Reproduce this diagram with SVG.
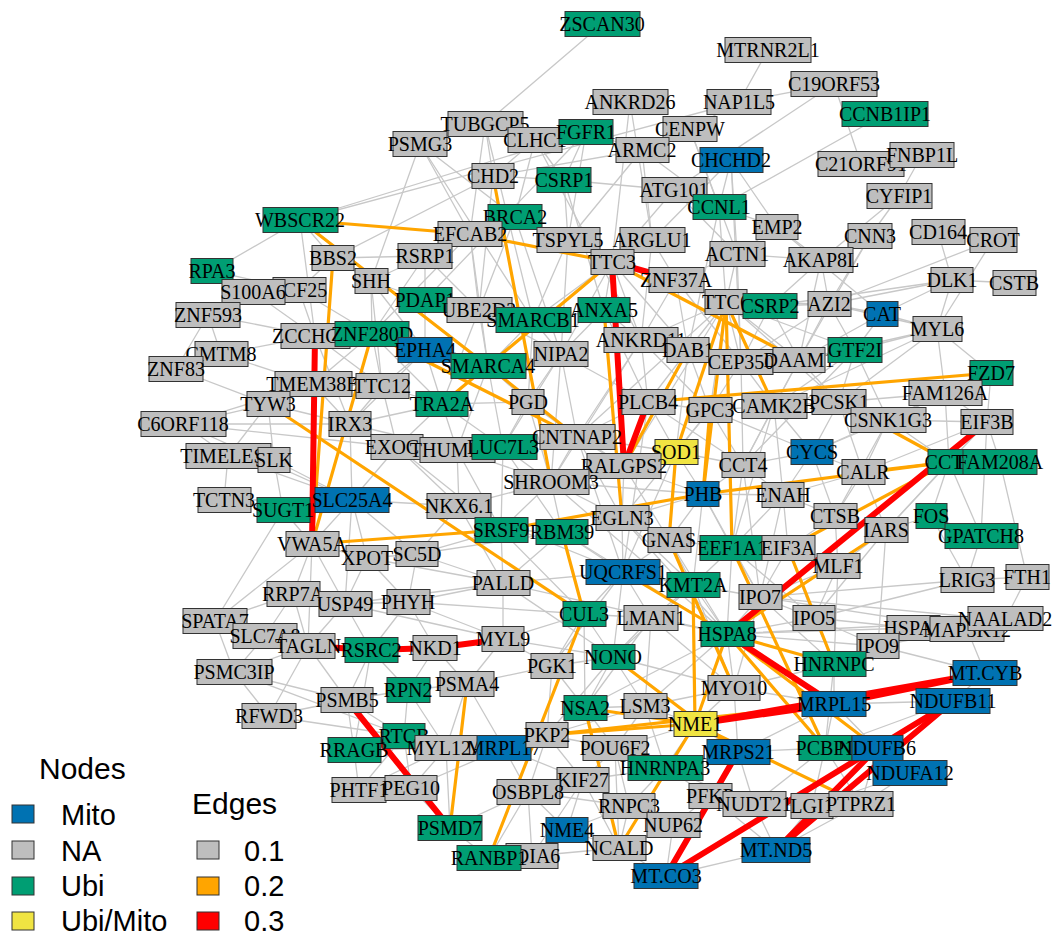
<svg xmlns="http://www.w3.org/2000/svg" width="1053" height="937" viewBox="0 0 1053 937">
<style>
.bg{fill:#fff}
#edges line{fill:none;stroke-linecap:round}
.e1{stroke:#c8c8c8;stroke-width:1.3}
.e2{stroke:#ffa500;stroke-width:3.2}
.e3{stroke:#ff0000;stroke-width:6}
.node rect{stroke:#333;stroke-width:1}
.m{fill:#0072b2}.n{fill:#bebebe}.u{fill:#009e73}.y{fill:#f0e442}
.node text{font-family:"Liberation Serif","Times New Roman",serif;font-size:20px;text-anchor:middle;fill:#000}
.lg text{font-family:"Liberation Sans",Arial,sans-serif;fill:#000}
.lg rect{stroke:#333;stroke-width:1}
</style>
<rect class="bg" x="0" y="0" width="1053" height="937"/>
<g id="edges">
<g class="e1">
<line x1="602" y1="24" x2="485" y2="124"/><line x1="768" y1="50" x2="739" y2="102"/><line x1="834" y1="84" x2="739" y2="102"/><line x1="834" y1="84" x2="861" y2="164"/><line x1="834" y1="84" x2="674" y2="190"/><line x1="885" y1="114" x2="719" y2="207"/><line x1="922" y1="155" x2="899" y2="196"/><line x1="899" y1="196" x2="870" y2="236"/><line x1="899" y1="196" x2="821" y2="260"/><line x1="739" y1="102" x2="300" y2="220"/><line x1="739" y1="102" x2="690" y2="129"/><line x1="630" y1="102" x2="612" y2="262"/><line x1="485" y1="124" x2="420" y2="144"/><line x1="485" y1="124" x2="533" y2="320"/><line x1="485" y1="124" x2="493" y2="176"/><line x1="420" y1="144" x2="371" y2="281"/><line x1="420" y1="144" x2="533" y2="320"/><line x1="420" y1="144" x2="470" y2="234"/><line x1="300" y1="220" x2="586" y2="132"/><line x1="300" y1="220" x2="212" y2="271"/><line x1="300" y1="220" x2="333" y2="258"/><line x1="300" y1="220" x2="315" y2="336"/><line x1="333" y1="258" x2="493" y2="176"/><line x1="535" y1="140" x2="515" y2="217"/><line x1="535" y1="140" x2="564" y2="180"/><line x1="535" y1="140" x2="641" y2="340"/><line x1="586" y1="132" x2="568" y2="240"/><line x1="586" y1="132" x2="642" y2="150"/><line x1="586" y1="132" x2="425" y2="300"/><line x1="642" y1="150" x2="652" y2="240"/><line x1="642" y1="150" x2="493" y2="176"/><line x1="642" y1="150" x2="719" y2="207"/><line x1="690" y1="129" x2="642" y2="150"/><line x1="690" y1="129" x2="737" y2="254"/><line x1="731" y1="160" x2="652" y2="240"/><line x1="731" y1="160" x2="719" y2="207"/><line x1="731" y1="160" x2="741" y2="362"/><line x1="493" y1="176" x2="564" y2="180"/><line x1="493" y1="176" x2="479" y2="310"/><line x1="564" y1="180" x2="674" y2="190"/><line x1="564" y1="180" x2="568" y2="240"/><line x1="564" y1="180" x2="604" y2="310"/><line x1="674" y1="190" x2="612" y2="262"/><line x1="674" y1="190" x2="737" y2="254"/><line x1="674" y1="190" x2="719" y2="207"/><line x1="719" y1="207" x2="777" y2="227"/><line x1="719" y1="207" x2="726" y2="302"/><line x1="719" y1="207" x2="688" y2="350"/><line x1="515" y1="217" x2="470" y2="234"/><line x1="515" y1="217" x2="612" y2="262"/><line x1="515" y1="217" x2="479" y2="310"/><line x1="515" y1="217" x2="561" y2="354"/><line x1="777" y1="227" x2="737" y2="254"/><line x1="777" y1="227" x2="821" y2="260"/><line x1="777" y1="227" x2="882" y2="314"/><line x1="870" y1="236" x2="829" y2="304"/><line x1="870" y1="236" x2="799" y2="360"/><line x1="938" y1="232" x2="952" y2="280"/><line x1="938" y1="232" x2="993" y2="240"/><line x1="993" y1="240" x2="829" y2="304"/><line x1="993" y1="240" x2="937" y2="329"/><line x1="952" y1="280" x2="1014" y2="283"/><line x1="952" y1="280" x2="937" y2="329"/><line x1="952" y1="280" x2="829" y2="304"/><line x1="952" y1="280" x2="770" y2="306"/><line x1="470" y1="234" x2="425" y2="256"/><line x1="470" y1="234" x2="479" y2="310"/><line x1="470" y1="234" x2="372" y2="334"/><line x1="470" y1="234" x2="488" y2="366"/><line x1="568" y1="240" x2="612" y2="262"/><line x1="568" y1="240" x2="533" y2="320"/><line x1="568" y1="240" x2="561" y2="354"/><line x1="652" y1="240" x2="612" y2="262"/><line x1="652" y1="240" x2="676" y2="280"/><line x1="652" y1="240" x2="641" y2="340"/><line x1="737" y1="254" x2="726" y2="302"/><line x1="737" y1="254" x2="676" y2="280"/><line x1="737" y1="254" x2="821" y2="260"/><line x1="737" y1="254" x2="741" y2="362"/><line x1="821" y1="260" x2="829" y2="304"/><line x1="821" y1="260" x2="799" y2="360"/><line x1="821" y1="260" x2="770" y2="306"/><line x1="212" y1="271" x2="253" y2="292"/><line x1="212" y1="271" x2="299" y2="290"/><line x1="333" y1="258" x2="299" y2="290"/><line x1="333" y1="258" x2="371" y2="281"/><line x1="333" y1="258" x2="425" y2="256"/><line x1="425" y1="256" x2="371" y2="281"/><line x1="425" y1="256" x2="425" y2="300"/><line x1="425" y1="256" x2="479" y2="310"/><line x1="425" y1="256" x2="372" y2="334"/><line x1="612" y1="262" x2="604" y2="310"/><line x1="612" y1="262" x2="641" y2="340"/><line x1="612" y1="262" x2="533" y2="320"/><line x1="612" y1="262" x2="561" y2="354"/><line x1="612" y1="262" x2="688" y2="350"/><line x1="612" y1="262" x2="726" y2="302"/><line x1="676" y1="280" x2="726" y2="302"/><line x1="676" y1="280" x2="641" y2="340"/><line x1="676" y1="280" x2="688" y2="350"/><line x1="676" y1="280" x2="741" y2="362"/><line x1="253" y1="292" x2="299" y2="290"/><line x1="253" y1="292" x2="208" y2="315"/><line x1="253" y1="292" x2="315" y2="336"/><line x1="299" y1="290" x2="315" y2="336"/><line x1="299" y1="290" x2="372" y2="334"/><line x1="371" y1="281" x2="372" y2="334"/><line x1="371" y1="281" x2="382" y2="386"/><line x1="371" y1="281" x2="425" y2="300"/><line x1="371" y1="281" x2="425" y2="350"/><line x1="425" y1="300" x2="425" y2="350"/><line x1="425" y1="300" x2="479" y2="310"/><line x1="425" y1="300" x2="533" y2="320"/><line x1="479" y1="310" x2="533" y2="320"/><line x1="479" y1="310" x2="488" y2="366"/><line x1="479" y1="310" x2="561" y2="354"/><line x1="479" y1="310" x2="442" y2="404"/><line x1="726" y1="302" x2="770" y2="306"/><line x1="726" y1="302" x2="688" y2="350"/><line x1="726" y1="302" x2="741" y2="362"/><line x1="726" y1="302" x2="799" y2="360"/><line x1="726" y1="302" x2="829" y2="304"/><line x1="726" y1="302" x2="855" y2="350"/><line x1="726" y1="302" x2="641" y2="340"/><line x1="726" y1="302" x2="710" y2="410"/><line x1="726" y1="302" x2="839" y2="402"/><line x1="726" y1="302" x2="577" y2="437"/><line x1="726" y1="302" x2="624" y2="466"/><line x1="770" y1="306" x2="829" y2="304"/><line x1="770" y1="306" x2="799" y2="360"/><line x1="770" y1="306" x2="741" y2="362"/><line x1="829" y1="304" x2="882" y2="314"/><line x1="829" y1="304" x2="855" y2="350"/><line x1="829" y1="304" x2="937" y2="329"/><line x1="882" y1="314" x2="937" y2="329"/><line x1="882" y1="314" x2="855" y2="350"/><line x1="882" y1="314" x2="799" y2="360"/><line x1="937" y1="329" x2="945" y2="393"/><line x1="937" y1="329" x2="991" y2="373"/><line x1="937" y1="329" x2="855" y2="350"/><line x1="937" y1="329" x2="839" y2="402"/><line x1="208" y1="315" x2="221" y2="354"/><line x1="208" y1="315" x2="315" y2="336"/><line x1="208" y1="315" x2="176" y2="369"/><line x1="221" y1="354" x2="176" y2="369"/><line x1="221" y1="354" x2="313" y2="384"/><line x1="221" y1="354" x2="315" y2="336"/><line x1="176" y1="369" x2="268" y2="404"/><line x1="315" y1="336" x2="372" y2="334"/><line x1="315" y1="336" x2="313" y2="384"/><line x1="315" y1="336" x2="382" y2="386"/><line x1="315" y1="336" x2="350" y2="424"/><line x1="372" y1="334" x2="425" y2="350"/><line x1="372" y1="334" x2="382" y2="386"/><line x1="372" y1="334" x2="313" y2="384"/><line x1="372" y1="334" x2="442" y2="404"/><line x1="425" y1="350" x2="488" y2="366"/><line x1="425" y1="350" x2="442" y2="404"/><line x1="425" y1="350" x2="382" y2="386"/><line x1="425" y1="350" x2="350" y2="424"/><line x1="533" y1="320" x2="561" y2="354"/><line x1="533" y1="320" x2="604" y2="310"/><line x1="533" y1="320" x2="488" y2="366"/><line x1="533" y1="320" x2="528" y2="402"/><line x1="604" y1="310" x2="641" y2="340"/><line x1="604" y1="310" x2="561" y2="354"/><line x1="604" y1="310" x2="648" y2="402"/><line x1="641" y1="340" x2="688" y2="350"/><line x1="641" y1="340" x2="648" y2="402"/><line x1="641" y1="340" x2="577" y2="437"/><line x1="641" y1="340" x2="710" y2="410"/><line x1="688" y1="350" x2="741" y2="362"/><line x1="688" y1="350" x2="648" y2="402"/><line x1="688" y1="350" x2="710" y2="410"/><line x1="688" y1="350" x2="676" y2="452"/><line x1="741" y1="362" x2="799" y2="360"/><line x1="741" y1="362" x2="710" y2="410"/><line x1="741" y1="362" x2="774" y2="406"/><line x1="741" y1="362" x2="743" y2="465"/><line x1="799" y1="360" x2="855" y2="350"/><line x1="799" y1="360" x2="774" y2="406"/><line x1="799" y1="360" x2="839" y2="402"/><line x1="855" y1="350" x2="839" y2="402"/><line x1="855" y1="350" x2="888" y2="420"/><line x1="855" y1="350" x2="774" y2="406"/><line x1="488" y1="366" x2="561" y2="354"/><line x1="488" y1="366" x2="442" y2="404"/><line x1="488" y1="366" x2="528" y2="402"/><line x1="488" y1="366" x2="503" y2="447"/><line x1="488" y1="366" x2="457" y2="450"/><line x1="561" y1="354" x2="528" y2="402"/><line x1="561" y1="354" x2="577" y2="437"/><line x1="561" y1="354" x2="648" y2="402"/><line x1="561" y1="354" x2="503" y2="447"/><line x1="313" y1="384" x2="382" y2="386"/><line x1="313" y1="384" x2="268" y2="404"/><line x1="313" y1="384" x2="350" y2="424"/><line x1="313" y1="384" x2="183" y2="424"/><line x1="382" y1="386" x2="350" y2="424"/><line x1="382" y1="386" x2="442" y2="404"/><line x1="382" y1="386" x2="397" y2="447"/><line x1="648" y1="402" x2="710" y2="410"/><line x1="648" y1="402" x2="676" y2="452"/><line x1="648" y1="402" x2="577" y2="437"/><line x1="648" y1="402" x2="743" y2="465"/><line x1="710" y1="410" x2="774" y2="406"/><line x1="710" y1="410" x2="676" y2="452"/><line x1="710" y1="410" x2="743" y2="465"/><line x1="710" y1="410" x2="812" y2="452"/><line x1="774" y1="406" x2="839" y2="402"/><line x1="774" y1="406" x2="812" y2="452"/><line x1="774" y1="406" x2="743" y2="465"/><line x1="774" y1="406" x2="783" y2="495"/><line x1="839" y1="402" x2="888" y2="420"/><line x1="839" y1="402" x2="945" y2="393"/><line x1="839" y1="402" x2="812" y2="452"/><line x1="839" y1="402" x2="863" y2="472"/><line x1="991" y1="373" x2="945" y2="393"/><line x1="991" y1="373" x2="987" y2="422"/><line x1="1000" y1="462" x2="1027" y2="577"/><line x1="945" y1="393" x2="888" y2="420"/><line x1="945" y1="393" x2="987" y2="422"/><line x1="945" y1="393" x2="949" y2="462"/><line x1="268" y1="404" x2="183" y2="424"/><line x1="268" y1="404" x2="350" y2="424"/><line x1="268" y1="404" x2="228" y2="456"/><line x1="268" y1="404" x2="274" y2="460"/><line x1="350" y1="424" x2="442" y2="404"/><line x1="350" y1="424" x2="397" y2="447"/><line x1="350" y1="424" x2="457" y2="450"/><line x1="350" y1="424" x2="352" y2="500"/><line x1="350" y1="424" x2="183" y2="424"/><line x1="442" y1="404" x2="528" y2="402"/><line x1="442" y1="404" x2="457" y2="450"/><line x1="442" y1="404" x2="503" y2="447"/><line x1="442" y1="404" x2="397" y2="447"/><line x1="528" y1="402" x2="503" y2="447"/><line x1="528" y1="402" x2="577" y2="437"/><line x1="528" y1="402" x2="624" y2="466"/><line x1="888" y1="420" x2="987" y2="422"/><line x1="888" y1="420" x2="812" y2="452"/><line x1="888" y1="420" x2="863" y2="472"/><line x1="888" y1="420" x2="949" y2="462"/><line x1="987" y1="422" x2="1000" y2="462"/><line x1="987" y1="422" x2="981" y2="536"/><line x1="183" y1="424" x2="228" y2="456"/><line x1="183" y1="424" x2="352" y2="500"/><line x1="183" y1="424" x2="397" y2="447"/><line x1="397" y1="447" x2="457" y2="450"/><line x1="397" y1="447" x2="352" y2="500"/><line x1="397" y1="447" x2="459" y2="506"/><line x1="457" y1="450" x2="503" y2="447"/><line x1="457" y1="450" x2="459" y2="506"/><line x1="457" y1="450" x2="551" y2="482"/><line x1="503" y1="447" x2="577" y2="437"/><line x1="503" y1="447" x2="551" y2="482"/><line x1="503" y1="447" x2="501" y2="530"/><line x1="577" y1="437" x2="624" y2="466"/><line x1="577" y1="437" x2="551" y2="482"/><line x1="577" y1="437" x2="676" y2="452"/><line x1="577" y1="437" x2="622" y2="518"/><line x1="676" y1="452" x2="624" y2="466"/><line x1="676" y1="452" x2="743" y2="465"/><line x1="676" y1="452" x2="703" y2="494"/><line x1="624" y1="466" x2="551" y2="482"/><line x1="624" y1="466" x2="622" y2="518"/><line x1="624" y1="466" x2="703" y2="494"/><line x1="624" y1="466" x2="669" y2="540"/><line x1="743" y1="465" x2="812" y2="452"/><line x1="743" y1="465" x2="703" y2="494"/><line x1="743" y1="465" x2="783" y2="495"/><line x1="743" y1="465" x2="732" y2="548"/><line x1="812" y1="452" x2="863" y2="472"/><line x1="812" y1="452" x2="783" y2="495"/><line x1="812" y1="452" x2="835" y2="516"/><line x1="863" y1="472" x2="783" y2="495"/><line x1="863" y1="472" x2="835" y2="516"/><line x1="863" y1="472" x2="886" y2="530"/><line x1="949" y1="462" x2="1000" y2="462"/><line x1="949" y1="462" x2="931" y2="516"/><line x1="949" y1="462" x2="981" y2="536"/><line x1="949" y1="462" x2="886" y2="530"/><line x1="228" y1="456" x2="274" y2="460"/><line x1="228" y1="456" x2="224" y2="500"/><line x1="274" y1="460" x2="283" y2="510"/><line x1="274" y1="460" x2="352" y2="500"/><line x1="551" y1="482" x2="459" y2="506"/><line x1="551" y1="482" x2="622" y2="518"/><line x1="551" y1="482" x2="562" y2="532"/><line x1="551" y1="482" x2="501" y2="530"/><line x1="551" y1="482" x2="703" y2="494"/><line x1="224" y1="500" x2="283" y2="510"/><line x1="283" y1="510" x2="352" y2="500"/><line x1="283" y1="510" x2="312" y2="544"/><line x1="283" y1="510" x2="215" y2="621"/><line x1="352" y1="500" x2="312" y2="544"/><line x1="352" y1="500" x2="367" y2="558"/><line x1="352" y1="500" x2="459" y2="506"/><line x1="352" y1="500" x2="417" y2="554"/><line x1="352" y1="500" x2="345" y2="604"/><line x1="459" y1="506" x2="501" y2="530"/><line x1="459" y1="506" x2="417" y2="554"/><line x1="459" y1="506" x2="503" y2="583"/><line x1="703" y1="494" x2="783" y2="495"/><line x1="703" y1="494" x2="669" y2="540"/><line x1="703" y1="494" x2="622" y2="518"/><line x1="703" y1="494" x2="732" y2="548"/><line x1="703" y1="494" x2="693" y2="585"/><line x1="783" y1="495" x2="788" y2="548"/><line x1="783" y1="495" x2="835" y2="516"/><line x1="783" y1="495" x2="732" y2="548"/><line x1="622" y1="518" x2="669" y2="540"/><line x1="622" y1="518" x2="562" y2="532"/><line x1="622" y1="518" x2="623" y2="572"/><line x1="622" y1="518" x2="693" y2="585"/><line x1="669" y1="540" x2="623" y2="572"/><line x1="669" y1="540" x2="693" y2="585"/><line x1="669" y1="540" x2="732" y2="548"/><line x1="501" y1="530" x2="562" y2="532"/><line x1="501" y1="530" x2="503" y2="583"/><line x1="501" y1="530" x2="417" y2="554"/><line x1="562" y1="532" x2="623" y2="572"/><line x1="562" y1="532" x2="503" y2="583"/><line x1="732" y1="548" x2="788" y2="548"/><line x1="732" y1="548" x2="693" y2="585"/><line x1="732" y1="548" x2="760" y2="597"/><line x1="788" y1="548" x2="835" y2="516"/><line x1="788" y1="548" x2="838" y2="566"/><line x1="788" y1="548" x2="760" y2="597"/><line x1="788" y1="548" x2="814" y2="618"/><line x1="835" y1="516" x2="886" y2="530"/><line x1="835" y1="516" x2="838" y2="566"/><line x1="886" y1="530" x2="931" y2="516"/><line x1="886" y1="530" x2="838" y2="566"/><line x1="886" y1="530" x2="814" y2="618"/><line x1="886" y1="530" x2="878" y2="646"/><line x1="931" y1="516" x2="981" y2="536"/><line x1="931" y1="516" x2="967" y2="580"/><line x1="981" y1="536" x2="967" y2="580"/><line x1="312" y1="544" x2="367" y2="558"/><line x1="312" y1="544" x2="293" y2="594"/><line x1="312" y1="544" x2="345" y2="604"/><line x1="312" y1="544" x2="215" y2="621"/><line x1="312" y1="544" x2="308" y2="646"/><line x1="367" y1="558" x2="417" y2="554"/><line x1="367" y1="558" x2="345" y2="604"/><line x1="367" y1="558" x2="408" y2="602"/><line x1="417" y1="554" x2="408" y2="602"/><line x1="417" y1="554" x2="503" y2="583"/><line x1="623" y1="572" x2="693" y2="585"/><line x1="623" y1="572" x2="584" y2="614"/><line x1="623" y1="572" x2="651" y2="618"/><line x1="623" y1="572" x2="503" y2="583"/><line x1="693" y1="585" x2="651" y2="618"/><line x1="693" y1="585" x2="727" y2="634"/><line x1="693" y1="585" x2="760" y2="597"/><line x1="693" y1="585" x2="734" y2="688"/><line x1="838" y1="566" x2="760" y2="597"/><line x1="838" y1="566" x2="814" y2="618"/><line x1="838" y1="566" x2="834" y2="664"/><line x1="503" y1="583" x2="503" y2="639"/><line x1="503" y1="583" x2="408" y2="602"/><line x1="503" y1="583" x2="345" y2="604"/><line x1="293" y1="594" x2="345" y2="604"/><line x1="293" y1="594" x2="215" y2="621"/><line x1="293" y1="594" x2="265" y2="636"/><line x1="293" y1="594" x2="308" y2="646"/><line x1="345" y1="604" x2="408" y2="602"/><line x1="345" y1="604" x2="308" y2="646"/><line x1="345" y1="604" x2="371" y2="650"/><line x1="408" y1="602" x2="435" y2="648"/><line x1="408" y1="602" x2="371" y2="650"/><line x1="408" y1="602" x2="503" y2="639"/><line x1="760" y1="597" x2="814" y2="618"/><line x1="760" y1="597" x2="727" y2="634"/><line x1="760" y1="597" x2="967" y2="580"/><line x1="760" y1="597" x2="1005" y2="620"/><line x1="760" y1="597" x2="967" y2="629"/><line x1="760" y1="597" x2="834" y2="664"/><line x1="967" y1="580" x2="1027" y2="577"/><line x1="967" y1="580" x2="814" y2="618"/><line x1="1027" y1="577" x2="1005" y2="620"/><line x1="584" y1="614" x2="651" y2="618"/><line x1="584" y1="614" x2="613" y2="657"/><line x1="584" y1="614" x2="552" y2="666"/><line x1="584" y1="614" x2="503" y2="639"/><line x1="584" y1="614" x2="585" y2="708"/><line x1="651" y1="618" x2="727" y2="634"/><line x1="651" y1="618" x2="613" y2="657"/><line x1="651" y1="618" x2="734" y2="688"/><line x1="651" y1="618" x2="645" y2="706"/><line x1="215" y1="621" x2="265" y2="636"/><line x1="215" y1="621" x2="234" y2="672"/><line x1="265" y1="636" x2="308" y2="646"/><line x1="265" y1="636" x2="234" y2="672"/><line x1="308" y1="646" x2="347" y2="700"/><line x1="371" y1="650" x2="408" y2="690"/><line x1="371" y1="650" x2="347" y2="700"/><line x1="371" y1="650" x2="354" y2="750"/><line x1="435" y1="648" x2="467" y2="684"/><line x1="435" y1="648" x2="408" y2="690"/><line x1="503" y1="639" x2="552" y2="666"/><line x1="503" y1="639" x2="467" y2="684"/><line x1="503" y1="639" x2="613" y2="657"/><line x1="727" y1="634" x2="814" y2="618"/><line x1="727" y1="634" x2="734" y2="688"/><line x1="727" y1="634" x2="878" y2="646"/><line x1="727" y1="634" x2="913" y2="628"/><line x1="727" y1="634" x2="1005" y2="620"/><line x1="814" y1="618" x2="913" y2="628"/><line x1="814" y1="618" x2="878" y2="646"/><line x1="814" y1="618" x2="834" y2="664"/><line x1="913" y1="628" x2="967" y2="629"/><line x1="913" y1="628" x2="878" y2="646"/><line x1="967" y1="629" x2="1005" y2="620"/><line x1="967" y1="629" x2="878" y2="646"/><line x1="878" y1="646" x2="834" y2="664"/><line x1="878" y1="646" x2="985" y2="673"/><line x1="234" y1="672" x2="269" y2="716"/><line x1="234" y1="672" x2="347" y2="700"/><line x1="234" y1="672" x2="308" y2="646"/><line x1="834" y1="664" x2="834" y2="704"/><line x1="834" y1="664" x2="734" y2="688"/><line x1="834" y1="664" x2="825" y2="748"/><line x1="613" y1="657" x2="552" y2="666"/><line x1="613" y1="657" x2="585" y2="708"/><line x1="613" y1="657" x2="645" y2="706"/><line x1="613" y1="657" x2="734" y2="688"/><line x1="552" y1="666" x2="467" y2="684"/><line x1="552" y1="666" x2="585" y2="708"/><line x1="552" y1="666" x2="547" y2="735"/><line x1="408" y1="690" x2="467" y2="684"/><line x1="408" y1="690" x2="347" y2="700"/><line x1="408" y1="690" x2="404" y2="736"/><line x1="408" y1="690" x2="446" y2="748"/><line x1="467" y1="684" x2="446" y2="748"/><line x1="467" y1="684" x2="504" y2="748"/><line x1="985" y1="673" x2="953" y2="701"/><line x1="985" y1="673" x2="967" y2="629"/><line x1="834" y1="704" x2="734" y2="688"/><line x1="834" y1="704" x2="825" y2="748"/><line x1="834" y1="704" x2="877" y2="748"/><line x1="834" y1="704" x2="738" y2="752"/><line x1="734" y1="688" x2="695" y2="724"/><line x1="734" y1="688" x2="645" y2="706"/><line x1="734" y1="688" x2="738" y2="752"/><line x1="347" y1="700" x2="404" y2="736"/><line x1="347" y1="700" x2="354" y2="750"/><line x1="347" y1="700" x2="269" y2="716"/><line x1="585" y1="708" x2="645" y2="706"/><line x1="585" y1="708" x2="547" y2="735"/><line x1="585" y1="708" x2="615" y2="748"/><line x1="645" y1="706" x2="695" y2="724"/><line x1="645" y1="706" x2="615" y2="748"/><line x1="645" y1="706" x2="665" y2="768"/><line x1="695" y1="724" x2="738" y2="752"/><line x1="695" y1="724" x2="665" y2="768"/><line x1="695" y1="724" x2="615" y2="748"/><line x1="404" y1="736" x2="354" y2="750"/><line x1="404" y1="736" x2="446" y2="748"/><line x1="404" y1="736" x2="411" y2="788"/><line x1="404" y1="736" x2="359" y2="790"/><line x1="354" y1="750" x2="359" y2="790"/><line x1="446" y1="748" x2="504" y2="748"/><line x1="446" y1="748" x2="411" y2="788"/><line x1="504" y1="748" x2="547" y2="735"/><line x1="504" y1="748" x2="528" y2="792"/><line x1="547" y1="735" x2="615" y2="748"/><line x1="547" y1="735" x2="583" y2="780"/><line x1="547" y1="735" x2="528" y2="792"/><line x1="615" y1="748" x2="665" y2="768"/><line x1="615" y1="748" x2="583" y2="780"/><line x1="615" y1="748" x2="629" y2="806"/><line x1="738" y1="752" x2="825" y2="748"/><line x1="738" y1="752" x2="665" y2="768"/><line x1="738" y1="752" x2="754" y2="804"/><line x1="825" y1="748" x2="877" y2="748"/><line x1="825" y1="748" x2="812" y2="806"/><line x1="825" y1="748" x2="754" y2="804"/><line x1="877" y1="748" x2="910" y2="773"/><line x1="877" y1="748" x2="861" y2="804"/><line x1="910" y1="773" x2="861" y2="804"/><line x1="665" y1="768" x2="710" y2="796"/><line x1="665" y1="768" x2="629" y2="806"/><line x1="359" y1="790" x2="411" y2="788"/><line x1="411" y1="788" x2="450" y2="828"/><line x1="583" y1="780" x2="528" y2="792"/><line x1="583" y1="780" x2="629" y2="806"/><line x1="583" y1="780" x2="567" y2="830"/><line x1="528" y1="792" x2="532" y2="856"/><line x1="528" y1="792" x2="567" y2="830"/><line x1="710" y1="796" x2="754" y2="804"/><line x1="710" y1="796" x2="673" y2="825"/><line x1="754" y1="804" x2="812" y2="806"/><line x1="754" y1="804" x2="776" y2="850"/><line x1="812" y1="806" x2="861" y2="804"/><line x1="812" y1="806" x2="776" y2="850"/><line x1="629" y1="806" x2="673" y2="825"/><line x1="629" y1="806" x2="619" y2="848"/><line x1="673" y1="825" x2="619" y2="848"/><line x1="673" y1="825" x2="666" y2="876"/><line x1="450" y1="828" x2="489" y2="858"/><line x1="567" y1="830" x2="619" y2="848"/><line x1="567" y1="830" x2="532" y2="856"/><line x1="489" y1="858" x2="532" y2="856"/><line x1="532" y1="856" x2="619" y2="848"/><line x1="776" y1="850" x2="666" y2="876"/>
<line x1="551" y1="482" x2="727" y2="634"/><line x1="459" y1="506" x2="623" y2="572"/><line x1="503" y1="583" x2="727" y2="634"/><line x1="503" y1="583" x2="613" y2="657"/><line x1="501" y1="530" x2="584" y2="614"/><line x1="562" y1="532" x2="727" y2="634"/><line x1="622" y1="518" x2="727" y2="634"/><line x1="669" y1="540" x2="727" y2="634"/><line x1="577" y1="437" x2="623" y2="572"/><line x1="648" y1="402" x2="623" y2="572"/><line x1="676" y1="452" x2="623" y2="572"/><line x1="528" y1="402" x2="551" y2="482"/><line x1="561" y1="354" x2="551" y2="482"/><line x1="641" y1="340" x2="551" y2="482"/><line x1="503" y1="447" x2="562" y2="532"/><line x1="457" y1="450" x2="501" y2="530"/><line x1="397" y1="447" x2="501" y2="530"/><line x1="417" y1="554" x2="562" y2="532"/><line x1="408" y1="602" x2="584" y2="614"/><line x1="345" y1="604" x2="503" y2="639"/><line x1="367" y1="558" x2="503" y2="583"/><line x1="693" y1="585" x2="613" y2="657"/><line x1="623" y1="572" x2="613" y2="657"/><line x1="623" y1="572" x2="552" y2="666"/><line x1="651" y1="618" x2="585" y2="708"/><line x1="727" y1="634" x2="645" y2="706"/><line x1="727" y1="634" x2="585" y2="708"/><line x1="760" y1="597" x2="734" y2="688"/><line x1="732" y1="548" x2="727" y2="634"/><line x1="732" y1="548" x2="814" y2="618"/><line x1="703" y1="494" x2="760" y2="597"/><line x1="743" y1="465" x2="760" y2="597"/><line x1="783" y1="495" x2="760" y2="597"/><line x1="710" y1="410" x2="622" y2="518"/><line x1="774" y1="406" x2="732" y2="548"/><line x1="799" y1="360" x2="743" y2="465"/><line x1="888" y1="420" x2="835" y2="516"/><line x1="945" y1="393" x2="812" y2="452"/><line x1="987" y1="422" x2="863" y2="472"/><line x1="987" y1="422" x2="886" y2="530"/><line x1="991" y1="373" x2="888" y2="420"/><line x1="952" y1="280" x2="882" y2="314"/><line x1="937" y1="329" x2="774" y2="406"/><line x1="937" y1="329" x2="799" y2="360"/><line x1="829" y1="304" x2="799" y2="360"/><line x1="829" y1="304" x2="741" y2="362"/><line x1="855" y1="350" x2="743" y2="465"/><line x1="228" y1="456" x2="352" y2="500"/><line x1="224" y1="500" x2="352" y2="500"/><line x1="215" y1="621" x2="308" y2="646"/><line x1="269" y1="716" x2="308" y2="646"/><line x1="269" y1="716" x2="404" y2="736"/><line x1="234" y1="672" x2="404" y2="736"/><line x1="354" y1="750" x2="446" y2="748"/><line x1="359" y1="790" x2="446" y2="748"/><line x1="411" y1="788" x2="504" y2="748"/><line x1="450" y1="828" x2="446" y2="748"/><line x1="450" y1="828" x2="528" y2="792"/><line x1="489" y1="858" x2="528" y2="792"/><line x1="532" y1="856" x2="583" y2="780"/><line x1="567" y1="830" x2="629" y2="806"/><line x1="619" y1="848" x2="583" y2="780"/><line x1="619" y1="848" x2="615" y2="748"/><line x1="666" y1="876" x2="619" y2="848"/><line x1="666" y1="876" x2="710" y2="796"/><line x1="776" y1="850" x2="710" y2="796"/><line x1="861" y1="804" x2="776" y2="850"/><line x1="861" y1="804" x2="825" y2="748"/><line x1="910" y1="773" x2="812" y2="806"/><line x1="953" y1="701" x2="834" y2="704"/><line x1="953" y1="701" x2="825" y2="748"/><line x1="754" y1="804" x2="861" y2="804"/><line x1="710" y1="796" x2="738" y2="752"/><line x1="665" y1="768" x2="754" y2="804"/><line x1="583" y1="780" x2="665" y2="768"/><line x1="528" y1="792" x2="629" y2="806"/><line x1="504" y1="748" x2="583" y2="780"/><line x1="547" y1="735" x2="613" y2="657"/><line x1="547" y1="735" x2="645" y2="706"/><line x1="446" y1="748" x2="547" y2="735"/><line x1="630" y1="102" x2="652" y2="240"/><line x1="420" y1="144" x2="515" y2="217"/><line x1="485" y1="124" x2="470" y2="234"/><line x1="535" y1="140" x2="493" y2="176"/><line x1="586" y1="132" x2="564" y2="180"/><line x1="642" y1="150" x2="568" y2="240"/><line x1="690" y1="129" x2="719" y2="207"/><line x1="731" y1="160" x2="737" y2="254"/><line x1="731" y1="160" x2="777" y2="227"/>
</g>
<g class="e2">
<line x1="300" y1="220" x2="470" y2="234"/><line x1="300" y1="220" x2="488" y2="366"/><line x1="333" y1="258" x2="312" y2="544"/><line x1="372" y1="334" x2="312" y2="544"/><line x1="372" y1="334" x2="577" y2="437"/><line x1="268" y1="404" x2="584" y2="614"/><line x1="312" y1="544" x2="501" y2="530"/><line x1="493" y1="176" x2="551" y2="482"/><line x1="612" y1="262" x2="442" y2="404"/><line x1="470" y1="234" x2="612" y2="262"/><line x1="612" y1="262" x2="799" y2="360"/><line x1="604" y1="310" x2="622" y2="518"/><line x1="726" y1="302" x2="676" y2="452"/><line x1="726" y1="302" x2="732" y2="548"/><line x1="726" y1="302" x2="703" y2="494"/><line x1="726" y1="302" x2="774" y2="406"/><line x1="688" y1="350" x2="624" y2="466"/><line x1="710" y1="410" x2="703" y2="494"/><line x1="648" y1="402" x2="991" y2="373"/><line x1="839" y1="402" x2="949" y2="462"/><line x1="863" y1="472" x2="949" y2="462"/><line x1="703" y1="494" x2="949" y2="462"/><line x1="788" y1="548" x2="949" y2="462"/><line x1="886" y1="530" x2="727" y2="634"/><line x1="727" y1="634" x2="834" y2="664"/><line x1="732" y1="548" x2="825" y2="748"/><line x1="788" y1="548" x2="834" y2="664"/><line x1="623" y1="572" x2="727" y2="634"/><line x1="501" y1="530" x2="703" y2="494"/><line x1="562" y1="532" x2="584" y2="614"/><line x1="584" y1="614" x2="489" y2="858"/><line x1="467" y1="684" x2="450" y2="828"/><line x1="547" y1="735" x2="695" y2="724"/><line x1="585" y1="708" x2="695" y2="724"/><line x1="695" y1="724" x2="619" y2="848"/><line x1="585" y1="708" x2="619" y2="848"/><line x1="695" y1="724" x2="861" y2="804"/><line x1="547" y1="735" x2="834" y2="704"/><line x1="488" y1="366" x2="577" y2="437"/><line x1="676" y1="452" x2="669" y2="540"/><line x1="727" y1="634" x2="695" y2="724"/><line x1="693" y1="585" x2="695" y2="724"/><line x1="613" y1="657" x2="738" y2="752"/><line x1="727" y1="634" x2="825" y2="748"/><line x1="727" y1="634" x2="877" y2="748"/><line x1="669" y1="540" x2="734" y2="688"/>
</g>
<g class="e3">
<line x1="315" y1="336" x2="312" y2="544"/><line x1="612" y1="262" x2="676" y2="280"/><line x1="612" y1="262" x2="624" y2="466"/><line x1="648" y1="402" x2="624" y2="466"/><line x1="308" y1="646" x2="371" y2="650"/><line x1="371" y1="650" x2="435" y2="648"/><line x1="435" y1="648" x2="503" y2="639"/><line x1="347" y1="700" x2="450" y2="828"/><line x1="987" y1="422" x2="727" y2="634"/><line x1="727" y1="634" x2="834" y2="704"/><line x1="834" y1="704" x2="985" y2="673"/><line x1="695" y1="724" x2="985" y2="673"/><line x1="695" y1="724" x2="834" y2="704"/><line x1="738" y1="752" x2="666" y2="876"/><line x1="666" y1="876" x2="953" y2="701"/><line x1="776" y1="850" x2="953" y2="701"/><line x1="776" y1="850" x2="877" y2="748"/>
</g>
</g>
<g id="nodes">
<g id="n-ZSCAN30" class="node"><rect class="u" x="565" y="11.5" width="75" height="25"/><text x="602" y="31">ZSCAN30</text></g>
<g id="n-MTRNR2L1" class="node"><rect class="n" x="725" y="37.5" width="86" height="25"/><text x="768" y="57">MTRNR2L1</text></g>
<g id="n-C19ORF53" class="node"><rect class="n" x="791" y="71.5" width="86" height="25"/><text x="834" y="91">C19ORF53</text></g>
<g id="n-ANKRD26" class="node"><rect class="n" x="593" y="89.5" width="75" height="25"/><text x="630" y="109">ANKRD26</text></g>
<g id="n-NAP1L5" class="node"><rect class="n" x="707" y="89.5" width="64" height="25"/><text x="739" y="109">NAP1L5</text></g>
<g id="n-CCNB1IP1" class="node"><rect class="u" x="842" y="101.5" width="86" height="25"/><text x="885" y="121">CCNB1IP1</text></g>
<g id="n-PSMG3" class="node"><rect class="n" x="393" y="131.5" width="54" height="25"/><text x="420" y="151">PSMG3</text></g>
<g id="n-TUBGCP5" class="node"><rect class="n" x="448" y="111.5" width="75" height="25"/><text x="485" y="131">TUBGCP5</text></g>
<g id="n-CLHC1" class="node"><rect class="n" x="508" y="127.5" width="54" height="25"/><text x="535" y="147">CLHC1</text></g>
<g id="n-FGFR1" class="node"><rect class="u" x="559" y="119.5" width="54" height="25"/><text x="586" y="139">FGFR1</text></g>
<g id="n-CENPW" class="node"><rect class="n" x="663" y="116.5" width="54" height="25"/><text x="690" y="136">CENPW</text></g>
<g id="n-ARMC2" class="node"><rect class="n" x="616" y="137.5" width="53" height="25"/><text x="642" y="157">ARMC2</text></g>
<g id="n-CHCHD2" class="node"><rect class="m" x="700" y="147.5" width="63" height="25"/><text x="731" y="167">CHCHD2</text></g>
<g id="n-C21ORF91" class="node"><rect class="n" x="818" y="151.5" width="86" height="25"/><text x="861" y="171">C21ORF91</text></g>
<g id="n-FNBP1L" class="node"><rect class="n" x="890" y="142.5" width="64" height="25"/><text x="922" y="162">FNBP1L</text></g>
<g id="n-CHD2" class="node"><rect class="n" x="472" y="163.5" width="42" height="25"/><text x="493" y="183">CHD2</text></g>
<g id="n-CSRP1" class="node"><rect class="u" x="537" y="167.5" width="54" height="25"/><text x="564" y="187">CSRP1</text></g>
<g id="n-ATG101" class="node"><rect class="n" x="642" y="177.5" width="65" height="25"/><text x="674" y="197">ATG101</text></g>
<g id="n-CCNL1" class="node"><rect class="u" x="693" y="194.5" width="53" height="25"/><text x="719" y="214">CCNL1</text></g>
<g id="n-CYFIP1" class="node"><rect class="n" x="867" y="183.5" width="65" height="25"/><text x="899" y="203">CYFIP1</text></g>
<g id="n-WBSCR22" class="node"><rect class="u" x="263" y="207.5" width="75" height="25"/><text x="300" y="227">WBSCR22</text></g>
<g id="n-BRCA2" class="node"><rect class="u" x="488" y="204.5" width="54" height="25"/><text x="515" y="224">BRCA2</text></g>
<g id="n-EMP2" class="node"><rect class="n" x="756" y="214.5" width="42" height="25"/><text x="777" y="234">EMP2</text></g>
<g id="n-CNN3" class="node"><rect class="n" x="848" y="223.5" width="44" height="25"/><text x="870" y="243">CNN3</text></g>
<g id="n-CD164" class="node"><rect class="n" x="912" y="219.5" width="53" height="25"/><text x="938" y="239">CD164</text></g>
<g id="n-CROT" class="node"><rect class="n" x="970" y="227.5" width="47" height="25"/><text x="993" y="247">CROT</text></g>
<g id="n-EFCAB2" class="node"><rect class="n" x="438" y="221.5" width="64" height="25"/><text x="470" y="241">EFCAB2</text></g>
<g id="n-TSPYL5" class="node"><rect class="n" x="537" y="227.5" width="63" height="25"/><text x="568" y="247">TSPYL5</text></g>
<g id="n-ARGLU1" class="node"><rect class="n" x="620" y="227.5" width="65" height="25"/><text x="652" y="247">ARGLU1</text></g>
<g id="n-ACTN1" class="node"><rect class="n" x="710" y="241.5" width="55" height="25"/><text x="737" y="261">ACTN1</text></g>
<g id="n-AKAP8L" class="node"><rect class="n" x="789" y="247.5" width="64" height="25"/><text x="821" y="267">AKAP8L</text></g>
<g id="n-RPA3" class="node"><rect class="u" x="191" y="258.5" width="42" height="25"/><text x="212" y="278">RPA3</text></g>
<g id="n-BBS2" class="node"><rect class="n" x="312" y="245.5" width="42" height="25"/><text x="333" y="265">BBS2</text></g>
<g id="n-RSRP1" class="node"><rect class="n" x="398" y="243.5" width="54" height="25"/><text x="425" y="263">RSRP1</text></g>
<g id="n-TTC3" class="node"><rect class="n" x="591" y="249.5" width="43" height="25"/><text x="612" y="269">TTC3</text></g>
<g id="n-ZNF37A" class="node"><rect class="n" x="649" y="267.5" width="55" height="25"/><text x="676" y="287">ZNF37A</text></g>
<g id="n-DLK1" class="node"><rect class="n" x="931" y="267.5" width="42" height="25"/><text x="952" y="287">DLK1</text></g>
<g id="n-CSTB" class="node"><rect class="n" x="993" y="270.5" width="43" height="25"/><text x="1014" y="290">CSTB</text></g>
<g id="n-TCF25" class="node"><rect class="n" x="273" y="277.5" width="53" height="25"/><text x="299" y="297">TCF25</text></g>
<g id="n-S100A6" class="node"><rect class="n" x="222" y="279.5" width="63" height="25"/><text x="253" y="299">S100A6</text></g>
<g id="n-SHH" class="node"><rect class="n" x="355" y="268.5" width="33" height="25"/><text x="371" y="288">SHH</text></g>
<g id="n-PDAP1" class="node"><rect class="u" x="399" y="287.5" width="53" height="25"/><text x="425" y="307">PDAP1</text></g>
<g id="n-UBE2D2" class="node"><rect class="n" x="447" y="297.5" width="65" height="25"/><text x="479" y="317">UBE2D2</text></g>
<g id="n-TTC6" class="node"><rect class="n" x="705" y="289.5" width="42" height="25"/><text x="726" y="309">TTC6</text></g>
<g id="n-CSRP2" class="node"><rect class="u" x="743" y="293.5" width="54" height="25"/><text x="770" y="313">CSRP2</text></g>
<g id="n-AZI2" class="node"><rect class="n" x="808" y="291.5" width="43" height="25"/><text x="829" y="311">AZI2</text></g>
<g id="n-CAT" class="node"><rect class="m" x="867" y="301.5" width="31" height="25"/><text x="882" y="321">CAT</text></g>
<g id="n-ZNF593" class="node"><rect class="n" x="176" y="302.5" width="64" height="25"/><text x="208" y="322">ZNF593</text></g>
<g id="n-ZCCHC11" class="node"><rect class="n" x="281" y="323.5" width="69" height="25"/><text x="315" y="343">ZCCHC11</text></g>
<g id="n-ZNF280D" class="node"><rect class="u" x="335" y="321.5" width="74" height="25"/><text x="372" y="341">ZNF280D</text></g>
<g id="n-ANXA5" class="node"><rect class="u" x="578" y="297.5" width="52" height="25"/><text x="604" y="317">ANXA5</text></g>
<g id="n-SMARCB1" class="node"><rect class="u" x="496" y="307.5" width="75" height="25"/><text x="533" y="327">SMARCB1</text></g>
<g id="n-ANKRD11" class="node"><rect class="n" x="604" y="327.5" width="74" height="25"/><text x="641" y="347">ANKRD11</text></g>
<g id="n-DAB1" class="node"><rect class="n" x="667" y="337.5" width="42" height="25"/><text x="688" y="357">DAB1</text></g>
<g id="n-CEP350" class="node"><rect class="n" x="709" y="349.5" width="64" height="25"/><text x="741" y="369">CEP350</text></g>
<g id="n-DAAM1" class="node"><rect class="n" x="773" y="347.5" width="52" height="25"/><text x="799" y="367">DAAM1</text></g>
<g id="n-GTF2I" class="node"><rect class="u" x="828" y="337.5" width="54" height="25"/><text x="855" y="357">GTF2I</text></g>
<g id="n-MYL6" class="node"><rect class="n" x="913" y="316.5" width="49" height="25"/><text x="937" y="336">MYL6</text></g>
<g id="n-CMTM8" class="node"><rect class="n" x="195" y="341.5" width="53" height="25"/><text x="221" y="361">CMTM8</text></g>
<g id="n-EPHA4" class="node"><rect class="m" x="398" y="337.5" width="54" height="25"/><text x="425" y="357">EPHA4</text></g>
<g id="n-SMARCA4" class="node"><rect class="u" x="451" y="353.5" width="75" height="25"/><text x="488" y="373">SMARCA4</text></g>
<g id="n-NIPA2" class="node"><rect class="n" x="534" y="341.5" width="54" height="25"/><text x="561" y="361">NIPA2</text></g>
<g id="n-ZNF83" class="node"><rect class="n" x="149" y="356.5" width="54" height="25"/><text x="176" y="376">ZNF83</text></g>
<g id="n-TMEM38B" class="node"><rect class="n" x="275" y="371.5" width="77" height="25"/><text x="313" y="391">TMEM38B</text></g>
<g id="n-TTC12" class="node"><rect class="n" x="356" y="373.5" width="53" height="25"/><text x="382" y="393">TTC12</text></g>
<g id="n-PLCB4" class="node"><rect class="n" x="622" y="389.5" width="53" height="25"/><text x="648" y="409">PLCB4</text></g>
<g id="n-GPC3" class="node"><rect class="n" x="689" y="397.5" width="43" height="25"/><text x="710" y="417">GPC3</text></g>
<g id="n-PCSK1" class="node"><rect class="n" x="812" y="389.5" width="54" height="25"/><text x="839" y="409">PCSK1</text></g>
<g id="n-CAMK2B" class="node"><rect class="n" x="742" y="393.5" width="65" height="25"/><text x="774" y="413">CAMK2B</text></g>
<g id="n-FZD7" class="node"><rect class="u" x="970" y="360.5" width="43" height="25"/><text x="991" y="380">FZD7</text></g>
<g id="n-FAM126A" class="node"><rect class="n" x="909" y="380.5" width="73" height="25"/><text x="945" y="400">FAM126A</text></g>
<g id="n-TYW3" class="node"><rect class="n" x="247" y="391.5" width="43" height="25"/><text x="268" y="411">TYW3</text></g>
<g id="n-IRX3" class="node"><rect class="n" x="329" y="411.5" width="42" height="25"/><text x="350" y="431">IRX3</text></g>
<g id="n-TRA2A" class="node"><rect class="u" x="416" y="391.5" width="52" height="25"/><text x="442" y="411">TRA2A</text></g>
<g id="n-PGD" class="node"><rect class="n" x="512" y="389.5" width="32" height="25"/><text x="528" y="409">PGD</text></g>
<g id="n-CSNK1G3" class="node"><rect class="n" x="851" y="407.5" width="75" height="25"/><text x="888" y="427">CSNK1G3</text></g>
<g id="n-EIF3B" class="node"><rect class="n" x="961" y="409.5" width="52" height="25"/><text x="987" y="429">EIF3B</text></g>
<g id="n-C6ORF118" class="node"><rect class="n" x="141" y="411.5" width="85" height="25"/><text x="183" y="431">C6ORF118</text></g>
<g id="n-EXOC5" class="node"><rect class="n" x="371" y="434.5" width="52" height="25"/><text x="397" y="454">EXOC5</text></g>
<g id="n-THUMPD3" class="node"><rect class="n" x="420" y="437.5" width="75" height="25"/><text x="457" y="457">THUMPD3</text></g>
<g id="n-LUC7L3" class="node"><rect class="u" x="472" y="434.5" width="65" height="25"/><text x="503" y="454">LUC7L3</text></g>
<g id="n-CNTNAP2" class="node"><rect class="n" x="540" y="424.5" width="75" height="25"/><text x="577" y="444">CNTNAP2</text></g>
<g id="n-SOD1" class="node"><rect class="y" x="655" y="439.5" width="43" height="25"/><text x="676" y="459">SOD1</text></g>
<g id="n-RALGPS2" class="node"><rect class="n" x="587" y="453.5" width="74" height="25"/><text x="624" y="473">RALGPS2</text></g>
<g id="n-CCT4" class="node"><rect class="n" x="722" y="452.5" width="43" height="25"/><text x="743" y="472">CCT4</text></g>
<g id="n-CYCS" class="node"><rect class="m" x="791" y="439.5" width="42" height="25"/><text x="812" y="459">CYCS</text></g>
<g id="n-CALR" class="node"><rect class="n" x="842" y="459.5" width="43" height="25"/><text x="863" y="479">CALR</text></g>
<g id="n-CCT8" class="node"><rect class="u" x="928" y="449.5" width="42" height="25"/><text x="949" y="469">CCT8</text></g>
<g id="n-FAM208A" class="node"><rect class="u" x="963" y="449.5" width="74" height="25"/><text x="1000" y="469">FAM208A</text></g>
<g id="n-TIMELESS" class="node"><rect class="n" x="186" y="443.5" width="85" height="25"/><text x="228" y="463">TIMELESS</text></g>
<g id="n-SLK" class="node"><rect class="n" x="258" y="447.5" width="32" height="25"/><text x="274" y="467">SLK</text></g>
<g id="n-SHROOM3" class="node"><rect class="n" x="514" y="469.5" width="75" height="25"/><text x="551" y="489">SHROOM3</text></g>
<g id="n-TCTN3" class="node"><rect class="n" x="198" y="487.5" width="53" height="25"/><text x="224" y="507">TCTN3</text></g>
<g id="n-SUGT1" class="node"><rect class="u" x="257" y="497.5" width="53" height="25"/><text x="283" y="517">SUGT1</text></g>
<g id="n-SLC25A4" class="node"><rect class="m" x="315" y="487.5" width="74" height="25"/><text x="352" y="507">SLC25A4</text></g>
<g id="n-NKX6.1" class="node"><rect class="n" x="427" y="493.5" width="64" height="25"/><text x="459" y="513">NKX6.1</text></g>
<g id="n-PHB" class="node"><rect class="m" x="687" y="481.5" width="32" height="25"/><text x="703" y="501">PHB</text></g>
<g id="n-ENAH" class="node"><rect class="n" x="762" y="482.5" width="42" height="25"/><text x="783" y="502">ENAH</text></g>
<g id="n-EGLN3" class="node"><rect class="n" x="596" y="505.5" width="53" height="25"/><text x="622" y="525">EGLN3</text></g>
<g id="n-GNAS" class="node"><rect class="n" x="648" y="527.5" width="43" height="25"/><text x="669" y="547">GNAS</text></g>
<g id="n-SRSF9" class="node"><rect class="u" x="475" y="517.5" width="53" height="25"/><text x="501" y="537">SRSF9</text></g>
<g id="n-RBM39" class="node"><rect class="u" x="536" y="519.5" width="52" height="25"/><text x="562" y="539">RBM39</text></g>
<g id="n-EEF1A1" class="node"><rect class="u" x="700" y="535.5" width="64" height="25"/><text x="732" y="555">EEF1A1</text></g>
<g id="n-EIF3A" class="node"><rect class="n" x="762" y="535.5" width="53" height="25"/><text x="788" y="555">EIF3A</text></g>
<g id="n-CTSB" class="node"><rect class="n" x="814" y="503.5" width="43" height="25"/><text x="835" y="523">CTSB</text></g>
<g id="n-IARS" class="node"><rect class="n" x="865" y="517.5" width="43" height="25"/><text x="886" y="537">IARS</text></g>
<g id="n-FOS" class="node"><rect class="u" x="916" y="503.5" width="31" height="25"/><text x="931" y="523">FOS</text></g>
<g id="n-GPATCH8" class="node"><rect class="u" x="945" y="523.5" width="73" height="25"/><text x="981" y="543">GPATCH8</text></g>
<g id="n-VWA5A" class="node"><rect class="n" x="286" y="531.5" width="53" height="25"/><text x="312" y="551">VWA5A</text></g>
<g id="n-XPOT" class="node"><rect class="n" x="346" y="545.5" width="42" height="25"/><text x="367" y="565">XPOT</text></g>
<g id="n-SC5D" class="node"><rect class="n" x="396" y="541.5" width="42" height="25"/><text x="417" y="561">SC5D</text></g>
<g id="n-UQCRFS1" class="node"><rect class="m" x="586" y="559.5" width="74" height="25"/><text x="623" y="579">UQCRFS1</text></g>
<g id="n-KMT2A" class="node"><rect class="u" x="667" y="572.5" width="53" height="25"/><text x="693" y="592">KMT2A</text></g>
<g id="n-MLF1" class="node"><rect class="n" x="817" y="553.5" width="43" height="25"/><text x="838" y="573">MLF1</text></g>
<g id="n-PALLD" class="node"><rect class="n" x="477" y="570.5" width="53" height="25"/><text x="503" y="590">PALLD</text></g>
<g id="n-RRP7A" class="node"><rect class="n" x="267" y="581.5" width="53" height="25"/><text x="293" y="601">RRP7A</text></g>
<g id="n-USP49" class="node"><rect class="n" x="319" y="591.5" width="53" height="25"/><text x="345" y="611">USP49</text></g>
<g id="n-PHYH" class="node"><rect class="n" x="387" y="589.5" width="43" height="25"/><text x="408" y="609">PHYH</text></g>
<g id="n-IPO7" class="node"><rect class="n" x="739" y="584.5" width="43" height="25"/><text x="760" y="604">IPO7</text></g>
<g id="n-LRIG3" class="node"><rect class="n" x="941" y="567.5" width="53" height="25"/><text x="967" y="587">LRIG3</text></g>
<g id="n-FTH1" class="node"><rect class="n" x="1006" y="564.5" width="43" height="25"/><text x="1027" y="584">FTH1</text></g>
<g id="n-CUL3" class="node"><rect class="u" x="563" y="601.5" width="43" height="25"/><text x="584" y="621">CUL3</text></g>
<g id="n-LMAN1" class="node"><rect class="n" x="624" y="605.5" width="54" height="25"/><text x="651" y="625">LMAN1</text></g>
<g id="n-SPATA7" class="node"><rect class="n" x="183" y="608.5" width="64" height="25"/><text x="215" y="628">SPATA7</text></g>
<g id="n-SLC7A8" class="node"><rect class="n" x="233" y="623.5" width="64" height="25"/><text x="265" y="643">SLC7A8</text></g>
<g id="n-TAGLN" class="node"><rect class="n" x="282" y="633.5" width="53" height="25"/><text x="308" y="653">TAGLN</text></g>
<g id="n-RSRC2" class="node"><rect class="u" x="345" y="637.5" width="53" height="25"/><text x="371" y="657">RSRC2</text></g>
<g id="n-NKD1" class="node"><rect class="n" x="413" y="635.5" width="44" height="25"/><text x="435" y="655">NKD1</text></g>
<g id="n-MYL9" class="node"><rect class="n" x="482" y="626.5" width="42" height="25"/><text x="503" y="646">MYL9</text></g>
<g id="n-HSPA8" class="node"><rect class="u" x="701" y="621.5" width="53" height="25"/><text x="727" y="641">HSPA8</text></g>
<g id="n-IPO5" class="node"><rect class="n" x="793" y="605.5" width="42" height="25"/><text x="814" y="625">IPO5</text></g>
<g id="n-HSPA4" class="node"><rect class="n" x="887" y="615.5" width="53" height="25"/><text x="913" y="635">HSPA4</text></g>
<g id="n-MAP3K12" class="node"><rect class="n" x="930" y="616.5" width="74" height="25"/><text x="967" y="637">MAP3K12</text></g>
<g id="n-NAALAD2" class="node"><rect class="n" x="968" y="606.5" width="75" height="24"/><text x="1005" y="626">NAALAD2</text></g>
<g id="n-IPO9" class="node"><rect class="n" x="857" y="633.5" width="42" height="25"/><text x="878" y="653">IPO9</text></g>
<g id="n-PSMC3IP" class="node"><rect class="n" x="197" y="659.5" width="75" height="25"/><text x="234" y="679">PSMC3IP</text></g>
<g id="n-HNRNPC" class="node"><rect class="u" x="803" y="651.5" width="63" height="25"/><text x="834" y="671">HNRNPC</text></g>
<g id="n-NONO" class="node"><rect class="u" x="592" y="644.5" width="43" height="25"/><text x="613" y="664">NONO</text></g>
<g id="n-PGK1" class="node"><rect class="n" x="531" y="653.5" width="42" height="25"/><text x="552" y="673">PGK1</text></g>
<g id="n-RPN2" class="node"><rect class="u" x="387" y="677.5" width="43" height="25"/><text x="408" y="697">RPN2</text></g>
<g id="n-PSMA4" class="node"><rect class="n" x="440" y="671.5" width="54" height="25"/><text x="467" y="691">PSMA4</text></g>
<g id="n-MT.CYB" class="node"><rect class="m" x="953" y="660.5" width="64" height="25"/><text x="985" y="680">MT.CYB</text></g>
<g id="n-MYO10" class="node"><rect class="n" x="708" y="675.5" width="52" height="25"/><text x="734" y="695">MYO10</text></g>
<g id="n-MRPL15" class="node"><rect class="m" x="802" y="691.5" width="64" height="25"/><text x="834" y="711">MRPL15</text></g>
<g id="n-NDUFB11" class="node"><rect class="m" x="916" y="688.5" width="74" height="25"/><text x="953" y="708">NDUFB11</text></g>
<g id="n-PSMB5" class="node"><rect class="n" x="321" y="687.5" width="52" height="25"/><text x="347" y="707">PSMB5</text></g>
<g id="n-RFWD3" class="node"><rect class="n" x="242" y="703.5" width="54" height="25"/><text x="269" y="723">RFWD3</text></g>
<g id="n-NSA2" class="node"><rect class="u" x="564" y="695.5" width="43" height="25"/><text x="585" y="715">NSA2</text></g>
<g id="n-LSM3" class="node"><rect class="n" x="624" y="693.5" width="43" height="25"/><text x="645" y="713">LSM3</text></g>
<g id="n-NME1" class="node"><rect class="y" x="674" y="711.5" width="43" height="25"/><text x="695" y="731">NME1</text></g>
<g id="n-RTCB" class="node"><rect class="u" x="383" y="723.5" width="42" height="25"/><text x="404" y="743">RTCB</text></g>
<g id="n-RRAGB" class="node"><rect class="u" x="328" y="737.5" width="53" height="25"/><text x="354" y="757">RRAGB</text></g>
<g id="n-MYL12A" class="node"><rect class="n" x="415" y="735.5" width="63" height="25"/><text x="446" y="755">MYL12A</text></g>
<g id="n-MRPL17" class="node"><rect class="m" x="477" y="735.5" width="54" height="25"/><text x="504" y="755">MRPL17</text></g>
<g id="n-PKP2" class="node"><rect class="n" x="526" y="722.5" width="42" height="25"/><text x="547" y="742">PKP2</text></g>
<g id="n-POU6F2" class="node"><rect class="n" x="583" y="735.5" width="64" height="25"/><text x="615" y="755">POU6F2</text></g>
<g id="n-MRPS21" class="node"><rect class="m" x="707" y="739.5" width="63" height="25"/><text x="738" y="759">MRPS21</text></g>
<g id="n-PCBP1" class="node"><rect class="u" x="799" y="735.5" width="53" height="25"/><text x="825" y="755">PCBP1</text></g>
<g id="n-NDUFB6" class="node"><rect class="m" x="852" y="735.5" width="51" height="25"/><text x="877" y="755">NDUFB6</text></g>
<g id="n-NDUFA12" class="node"><rect class="m" x="873" y="760.5" width="74" height="25"/><text x="910" y="780">NDUFA12</text></g>
<g id="n-HNRNPA3" class="node"><rect class="u" x="628" y="755.5" width="75" height="25"/><text x="665" y="775">HNRNPA3</text></g>
<g id="n-PHTF1" class="node"><rect class="n" x="332" y="777.5" width="54" height="25"/><text x="359" y="797">PHTF1</text></g>
<g id="n-PEG10" class="node"><rect class="n" x="385" y="775.5" width="52" height="25"/><text x="411" y="795">PEG10</text></g>
<g id="n-KIF27" class="node"><rect class="n" x="557" y="767.5" width="52" height="25"/><text x="583" y="787">KIF27</text></g>
<g id="n-OSBPL8" class="node"><rect class="n" x="497" y="779.5" width="63" height="25"/><text x="528" y="799">OSBPL8</text></g>
<g id="n-PFKP" class="node"><rect class="n" x="689" y="783.5" width="43" height="25"/><text x="710" y="803">PFKP</text></g>
<g id="n-NUDT21" class="node"><rect class="n" x="723" y="791.5" width="63" height="25"/><text x="754" y="811">NUDT21</text></g>
<g id="n-LGI1" class="node"><rect class="n" x="791" y="793.5" width="42" height="25"/><text x="812" y="813">LGI1</text></g>
<g id="n-PTPRZ1" class="node"><rect class="n" x="829" y="791.5" width="64" height="25"/><text x="861" y="811">PTPRZ1</text></g>
<g id="n-RNPC3" class="node"><rect class="n" x="603" y="793.5" width="52" height="25"/><text x="629" y="813">RNPC3</text></g>
<g id="n-NUP62" class="node"><rect class="n" x="647" y="812.5" width="53" height="25"/><text x="673" y="832">NUP62</text></g>
<g id="n-PSMD7" class="node"><rect class="u" x="418" y="815.5" width="64" height="25"/><text x="450" y="835">PSMD7</text></g>
<g id="n-NME4" class="node"><rect class="m" x="546" y="817.5" width="42" height="25"/><text x="567" y="837">NME4</text></g>
<g id="n-NCALD" class="node"><rect class="n" x="593" y="835.5" width="53" height="25"/><text x="619" y="855">NCALD</text></g>
<g id="n-MT.ND5" class="node"><rect class="m" x="742" y="837.5" width="68" height="25"/><text x="776" y="857">MT.ND5</text></g>
<g id="n-PDIA6" class="node"><rect class="n" x="506" y="843.5" width="52" height="25"/><text x="532" y="863">PDIA6</text></g>
<g id="n-RANBP1" class="node"><rect class="u" x="457" y="845.5" width="64" height="25"/><text x="489" y="865">RANBP1</text></g>
<g id="n-MT.CO3" class="node"><rect class="m" x="634" y="863.5" width="64" height="25"/><text x="666" y="883">MT.CO3</text></g>
</g>
<g id="legend" class="lg">
<text x="39" y="779" font-size="30">Nodes</text>
<rect class="m" x="12" y="805" width="22" height="18"/><text x="61" y="825" font-size="29">Mito</text>
<rect class="n" x="12" y="841" width="22" height="18"/><text x="61" y="861" font-size="29">NA</text>
<rect class="u" x="12" y="877" width="22" height="18"/><text x="61" y="896" font-size="29">Ubi</text>
<rect class="y" x="12" y="912" width="22" height="18"/><text x="61" y="931" font-size="29">Ubi/Mito</text>
<text x="192" y="814" font-size="30">Edges</text>
<rect x="197" y="841" width="22" height="18" fill="#bebebe"/><text x="244" y="861" font-size="29">0.1</text>
<rect x="197" y="877" width="22" height="18" fill="#ffa500"/><text x="244" y="896" font-size="29">0.2</text>
<rect x="197" y="912" width="22" height="18" fill="#ff0000"/><text x="244" y="931" font-size="29">0.3</text>
</g>
</svg>
